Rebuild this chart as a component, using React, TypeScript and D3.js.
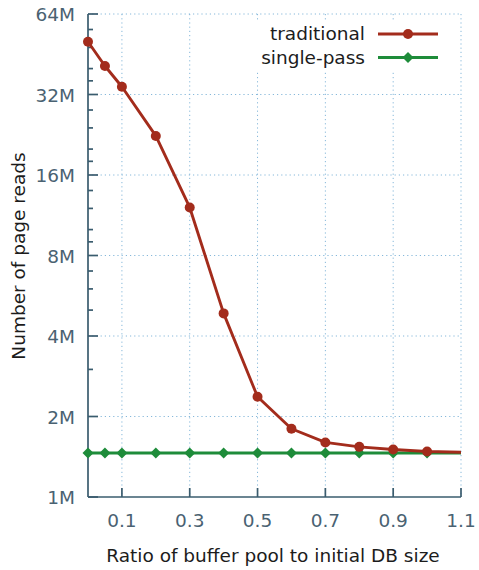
import React from "react";
import * as d3 from "d3";

const ratios = [0, 0.05, 0.1, 0.2, 0.3, 0.4, 0.5, 0.6, 0.7, 0.8, 0.9, 1.0, 1.1];
const traditional = [50.4, 40.9, 34.2, 22.4, 12.1, 4.86, 2.37, 1.8, 1.6, 1.54, 1.505, 1.48, 1.47];
const singlePass = [1.46, 1.46, 1.46, 1.46, 1.46, 1.46, 1.46, 1.46, 1.46, 1.46, 1.46, 1.46, 1.46];
const xTicks = [0.1, 0.3, 0.5, 0.7, 0.9, 1.1];
const yTicks = [1, 2, 4, 8, 16, 32, 64];
const yMinorTicks = [3, 5, 6, 7, 9, 10, 12, 14, 18, 20, 24, 28, 36, 40, 48, 56];
const markerMaxX = 1.0;

const W = 479;
const H = 570;
const L = 88, R = 461, T = 14, B = 497;
const FONT = "DejaVu Sans, sans-serif";
const RED = "#a32c1c";
const GREEN = "#1e8c3a";
const AXIS = "#3a5c6e";
const LABEL = "#4a6272";
const GRID = "#86b8da";

export default function App() {
  const x = d3.scaleLinear().domain([0, 1.1]).range([L, R]);
  const y = d3.scaleLog().base(2).domain([1, 64]).range([B, T]);
  const line = d3
    .line<number>()
    .x((_, i) => x(ratios[i]))
    .y((d) => y(d));

  const diamond = (cx: number, cy: number, r: number) =>
    `M${cx},${cy - r}L${cx + r},${cy}L${cx},${cy + r}L${cx - r},${cy}Z`;

  const markIdx = ratios.map((r, i) => i).filter((i) => ratios[i] <= markerMaxX);

  return (
    <svg
      width={W}
      height={H}
      style={{ position: "absolute", left: 0, top: 0, background: "#fff" }}
      fontFamily={FONT}
    >
      <rect x={0} y={0} width={W} height={H} fill="#fff" />
      {/* grid */}
      <g stroke={GRID} strokeWidth={1} strokeDasharray="1.2,3" fill="none">
        {yTicks.filter((t) => t > 1).map((t) => (
          <line key={"gy" + t} x1={L} x2={R} y1={y(t)} y2={y(t)} />
        ))}
        {xTicks.map((t) => (
          <line key={"gx" + t} x1={x(t)} x2={x(t)} y1={T} y2={B} />
        ))}
      </g>
      {/* legend background */}
      <rect x={256} y={21} width={198} height={49} fill="#fff" />
      {/* axes */}
      <g stroke={AXIS} strokeWidth={1.7} fill="none">
        <line x1={L} x2={L} y1={T} y2={B} />
        <line x1={L} x2={R} y1={B} y2={B} />
        {yTicks.map((t) => (
          <line key={"ty" + t} x1={L} x2={L + 10} y1={y(t)} y2={y(t)} />
        ))}
        {yMinorTicks.map((t) => (
          <line key={"tm" + t} x1={L} x2={L + 5} y1={y(t)} y2={y(t)} />
        ))}
        {xTicks.map((t) => (
          <line key={"tx" + t} x1={x(t)} x2={x(t)} y1={B} y2={B - 9} />
        ))}
      </g>
      {/* tick labels */}
      <g fill={LABEL} fontSize={18.5}>
        {yTicks.map((t) => (
          <text key={"ly" + t} x={75} y={y(t) + 7} textAnchor="end">
            {t + "M"}
          </text>
        ))}
        {xTicks.map((t) => (
          <text key={"lx" + t} x={x(t)} y={527} textAnchor="middle">
            {d3.format(".1f")(t)}
          </text>
        ))}
      </g>
      {/* axis titles */}
      <text x={273} y={562} textAnchor="middle" fontSize={18.5} fill="#1c1c1c">
        Ratio of buffer pool to initial DB size
      </text>
      <text
        transform={`translate(25,256) rotate(-90)`}
        textAnchor="middle"
        fontSize={18.5}
        fill="#1c1c1c"
      >
        Number of page reads
      </text>
      {/* series */}
      <path d={line(singlePass) || ""} fill="none" stroke={GREEN} strokeWidth={2.9} />
      {markIdx.map((i) => (
        <path key={"g" + i} d={diamond(x(ratios[i]), y(singlePass[i]), 5.5)} fill={GREEN} />
      ))}
      <path d={line(traditional) || ""} fill="none" stroke={RED} strokeWidth={2.9} strokeLinejoin="round" />
      {markIdx.map((i) => (
        <circle key={"r" + i} cx={x(ratios[i])} cy={y(traditional[i])} r={5} fill={RED} />
      ))}
      {/* legend */}
      <g fontSize={18.5} fill="#1c1c1c">
        <text x={365} y={40} textAnchor="end">traditional</text>
        <text x={365} y={64} textAnchor="end">single-pass</text>
      </g>
      <line x1={378} x2={438} y1={34} y2={34} stroke={RED} strokeWidth={2.9} />
      <circle cx={408} cy={34} r={5} fill={RED} />
      <line x1={378} x2={438} y1={57.5} y2={57.5} stroke={GREEN} strokeWidth={2.9} />
      <path d={diamond(408, 57.5, 5.5)} fill={GREEN} />
    </svg>
  );
}
